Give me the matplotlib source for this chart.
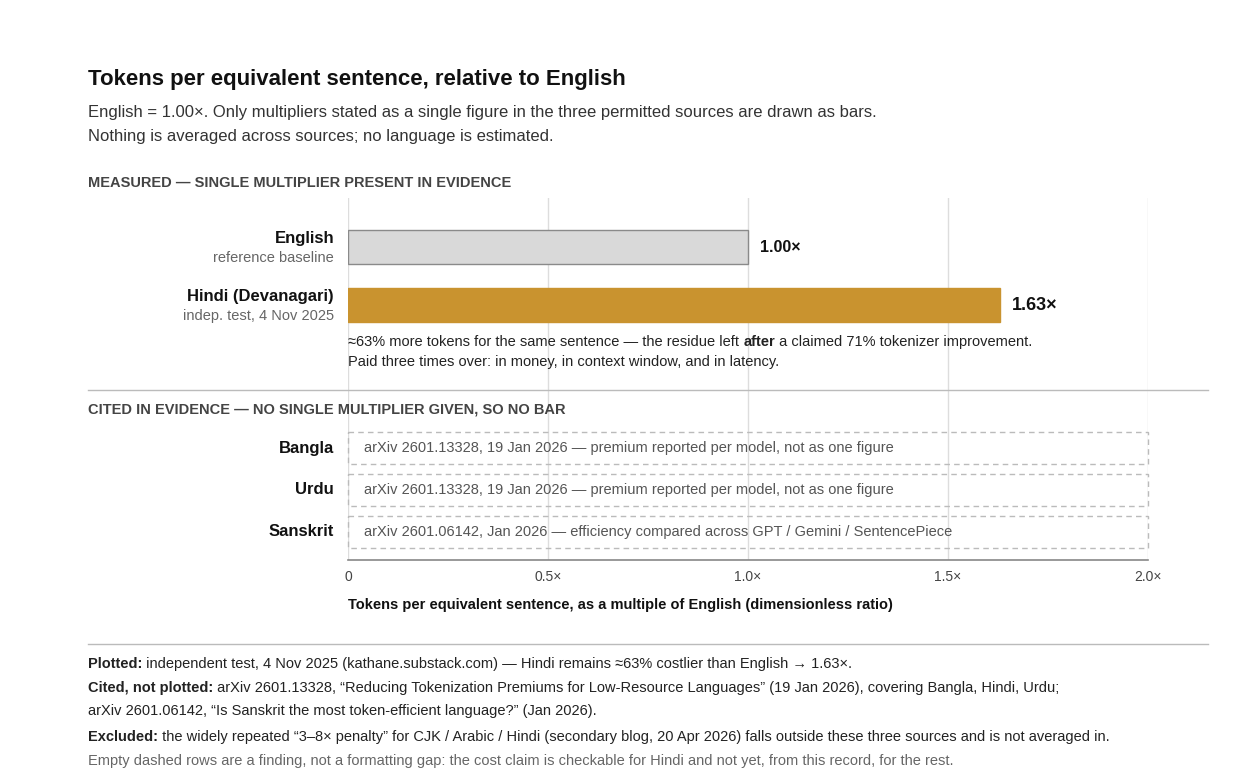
import matplotlib
matplotlib.use('Agg')
import matplotlib.pyplot as plt
from matplotlib.patches import Rectangle

plt.rcParams['font.family'] = ['Liberation Sans', 'DejaVu Sans']

W, H = 1248, 778

# data
measured_langs = ['English', 'Hindi (Devanagari)']
measured_notes = ['reference baseline', 'indep. test, 4 Nov 2025']
measured_values = [1.00, 1.63]
measured_colors = ['#d9d9d9', '#c9932f']
measured_edges = ['#8a8a8a', '#c9932f']

cited_langs = ['Bangla', 'Urdu', 'Sanskrit']
cited_notes = [
    'arXiv 2601.13328, 19 Jan 2026 \u2014 premium reported per model, not as one figure',
    'arXiv 2601.13328, 19 Jan 2026 \u2014 premium reported per model, not as one figure',
    'arXiv 2601.06142, Jan 2026 \u2014 efficiency compared across GPT / Gemini / SentencePiece',
]
xticks = [0, 0.5, 1.0, 1.5, 2.0]
xticklabels = ['0', '0.5\u00d7', '1.0\u00d7', '1.5\u00d7', '2.0\u00d7']

fig = plt.figure(figsize=(W / 100, H / 100), dpi=100)
fig.patch.set_facecolor('white')


def fy(y):
    return 1 - y / H


def fx(x):
    return x / W


def rich(x, y, parts, size, color='#222222'):
    """parts: list of (text, bold); drawn left to right at pixel x,y (center-baseline)."""
    r = fig.canvas.get_renderer()
    cx = x
    for txt, bold in parts:
        t = fig.text(fx(cx), fy(y), txt, fontsize=size, color=color, va='center',
                     fontweight='bold' if bold else 'normal')
        cx += t.get_window_extent(renderer=r).width


# title block
fig.text(fx(88), fy(80), 'Tokens per equivalent sentence, relative to English',
         fontsize=16, fontweight='bold', color='#111111', va='center')
fig.text(fx(88), fy(112), 'English = 1.00\u00d7. Only multipliers stated as a single figure in the three permitted sources are drawn as bars.',
         fontsize=12, color='#333333', va='center')
fig.text(fx(88), fy(136), 'Nothing is averaged across sources; no language is estimated.',
         fontsize=12, color='#333333', va='center')
fig.text(fx(88), fy(183), 'MEASURED \u2014 SINGLE MULTIPLIER PRESENT IN EVIDENCE',
         fontsize=10.5, fontweight='bold', color='#444444', va='center')

# main axes: data x in ratio units, y in pixel rows
ax = fig.add_axes([fx(348), fy(560), fx(1148) - fx(348), (560 - 198) / H])
ax.set_xlim(0, 2.0)
ax.set_ylim(560, 198)
ax.set_axis_off()
for t in xticks:
    ax.axvline(t, color='#dddddd', lw=1, zorder=0)
ax.plot([0, 2.0], [560, 560], color='#888888', lw=1.2, clip_on=False)
for t, lab in zip(xticks, xticklabels):
    ax.text(t, 577, lab, ha='center', va='center', fontsize=10, color='#444444')
ax.text(0, 605, 'Tokens per equivalent sentence, as a multiple of English (dimensionless ratio)',
        ha='left', va='center', fontsize=10.5, fontweight='bold', color='#111111')

bar_rows = [247, 305]
ax.barh(bar_rows, measured_values, height=34, color=measured_colors,
        edgecolor=measured_edges, lw=1, zorder=2)
for yrow, v, lang, note in zip(bar_rows, measured_values, measured_langs, measured_notes):
    ax.text(v + 0.03, yrow, f'{v:.2f}\u00d7', va='center', ha='left',
            fontsize=13 if v > 1 else 11.5, fontweight='bold', color='#111111')
    fig.text(fx(334), fy(yrow - 9), lang, ha='right', va='center', fontsize=12,
             fontweight='bold', color='#111111')
    fig.text(fx(334), fy(yrow + 11), note, ha='right', va='center', fontsize=10.5,
             color='#666666')

rich(348, 342, [('\u224863% more tokens for the same sentence \u2014 the residue left ', False),
                ('after', True),
                (' a claimed 71% tokenizer improvement.', False)], 10.5)
fig.text(fx(348), fy(362), 'Paid three times over: in money, in context window, and in latency.',
         fontsize=10.5, color='#222222', va='center')

# dividers
for yy in (390, 644):
    fig.add_artist(plt.Line2D([fx(88), fx(1208)], [fy(yy), fy(yy)], color='#bbbbbb', lw=1))

fig.text(fx(88), fy(410), 'CITED IN EVIDENCE \u2014 NO SINGLE MULTIPLIER GIVEN, SO NO BAR',
         fontsize=10.5, fontweight='bold', color='#444444', va='center')

cited_rows = [448, 490, 532]
for yrow, lang, note in zip(cited_rows, cited_langs, cited_notes):
    ax.add_patch(Rectangle((0, yrow - 16), 2.0, 32, fill=False, edgecolor='#bbbbbb',
                           lw=1, ls=(0, (4, 3)), zorder=3, clip_on=False))
    ax.text(0.04, yrow, note, va='center', ha='left', fontsize=10.5, color='#555555')
    fig.text(fx(334), fy(yrow), lang, ha='right', va='center', fontsize=12,
             fontweight='bold', color='#111111')

# footer
rich(88, 664, [('Plotted:', True),
               (' independent test, 4 Nov 2025 (kathane.substack.com) \u2014 Hindi remains \u224863% costlier than English \u2192 1.63\u00d7.', False)], 10.5)
rich(88, 688, [('Cited, not plotted:', True),
               (' arXiv 2601.13328, \u201cReducing Tokenization Premiums for Low-Resource Languages\u201d (19 Jan 2026), covering Bangla, Hindi, Urdu;', False)], 10.5)
fig.text(fx(88), fy(711), 'arXiv 2601.06142, \u201cIs Sanskrit the most token-efficient language?\u201d (Jan 2026).',
         fontsize=10.5, color='#222222', va='center')
rich(88, 737, [('Excluded:', True),
               (' the widely repeated \u201c3\u20138\u00d7 penalty\u201d for CJK / Arabic / Hindi (secondary blog, 20 Apr 2026) falls outside these three sources and is not averaged in.', False)], 10.5)
fig.text(fx(88), fy(761), 'Empty dashed rows are a finding, not a formatting gap: the cost claim is checkable for Hindi and not yet, from this record, for the rest.',
         fontsize=10.5, color='#666666', va='center')

fig.savefig('out.png', dpi=100, facecolor='white')
